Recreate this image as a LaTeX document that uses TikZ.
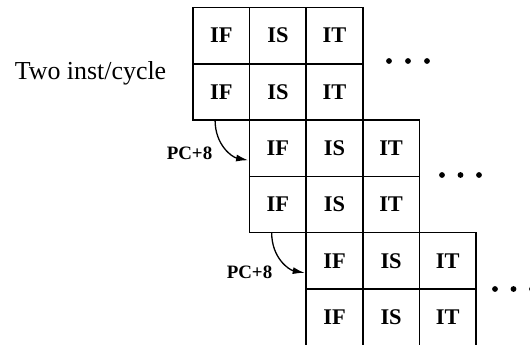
\documentclass[tikz,border=0pt]{standalone}
\usepackage{fontspec}
\setmainfont{Liberation Serif}
\usetikzlibrary{arrows.meta,calc}
\begin{document}
\begin{tikzpicture}[x=1bp,y=-1bp,
  cell/.style={draw, line width=1.5bp, minimum width=56.6bp, minimum height=56.3bp,
    inner sep=0pt, outer sep=0pt, anchor=north west,
    font=\bfseries\fontsize{22.5}{23}\selectfont},
  dotmark/.style={circle, fill=black, draw=none, inner sep=0pt, minimum size=5.8bp},
  pclabel/.style={inner sep=0pt, font=\bfseries\fontsize{19}{20}\selectfont},
  conn/.style={line width=1.3bp, -{Latex[length=12bp,width=7bp]}}]
\useasboundingbox (0,0) rectangle (530,345);
\clip (0,0) rectangle (530,344.2);
\foreach \g/\gx/\gy in {a/193/7.5, b/249.6/120.1, c/306.2/232.7} {
  \foreach \r in {1,2} {
    \foreach \c/\t in {1/IF,2/IS,3/IT} {
      \node[cell] (\g\r\c) at ({\gx+(\c-1)*56.6},{\gy+(\r-1)*56.3}) {\t};
    }
  }
}
\node[anchor=base, inner sep=0pt, font=\fontsize{26}{28}\selectfont] (label) at (90.5,79.3) {Two inst/cycle};
\foreach \n/\x/\y in {d1/389/61, d2/408/61, d3/427/61,
                      d4/442/175, d5/460.5/175, d6/479/175,
                      d7/495/289, d8/513.5/289, d9/532/289} {
  \node[dotmark] (\n) at (\x,\y) {};
}
\node[pclabel] (pc1) at (189.5,153) {PC+8};
\node[pclabel] (pc2) at (249.5,272) {PC+8};
\coordinate (s1) at ($(a21.south west)!0.39!(a21.south east)$);
\coordinate (e1) at ($(b11.west)+(-1.5,12)$);
\coordinate (s2) at ($(b21.south west)!0.39!(b21.south east)$);
\coordinate (e2) at ($(c11.west)+(-1.5,12)$);
\draw[conn] (s1) .. controls +(0,25) and +(-16,-3) .. (e1);
\draw[conn] (s2) .. controls +(0,25) and +(-16,-3) .. (e2);
\end{tikzpicture}
\end{document}
